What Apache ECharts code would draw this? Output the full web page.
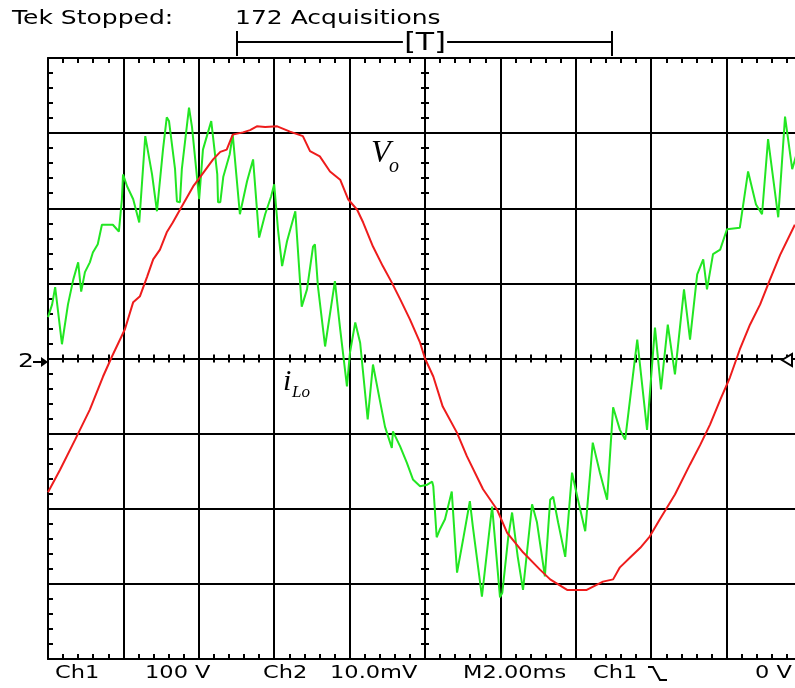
<!DOCTYPE html>
<html><head><meta charset="utf-8">
<script src="https://cdn.jsdelivr.net/npm/echarts@6/dist/echarts.min.js"></script>
<style>html,body{margin:0;padding:0;background:#fff;overflow:hidden}#c{width:810px;height:688px}</style>
</head><body><div id="c"></div>
<script>
// Scope settings
const timePerDiv = 2;      // ms/div  (M2.00ms)
const ch1PerDiv = 100;     // V/div   (Ch1 100 V)
const ch2PerDiv = 10;      // mV/div  (Ch2 10.0mV)

// Ch1: output voltage Vo (red), time in ms, value in V
const voTime = [0,0.32,0.72,1.11,1.46,1.70,2.04,2.26,2.44,2.63,2.79,2.97,3.15,3.31,3.50,3.85,4.03,4.38,4.57,4.74,4.90,5.17,5.36,5.54,5.76,6.08,6.42,6.76,6.95,7.21,7.48,7.75,7.96,8.20,8.36,8.62,8.88,9.12,9.34,9.60,9.87,10.00,10.22,10.47,10.85,11.11,11.54,11.91,12.18,12.60,13.05,13.32,13.77,14.29,14.72,14.99,15.17,15.44,15.71,15.96,16.23,16.63,17.03,17.30,17.56,17.83,18.09,18.35,18.62,18.89,19.15,19.42,19.81];
const voVolts = [-178,-148,-108,-68,-24,3,39,75,83,109,132,145,168,181,198,229,241,265,275,278,298,301,304,309,308,309,302,296,276,269,249,238,212,198,181,149,123,101,79,52,21,0,-24,-64,-99,-130,-174,-201,-232,-258,-281,-294,-308,-308,-297,-294,-278,-265,-252,-237,-214,-181,-141,-115,-88,-55,-25,12,45,72,105,138,178];

// Ch2: inductor current iLo (green), time in ms, value in mV
const iloTime = [0,0.11,0.19,0.37,0.53,0.67,0.80,0.88,0.98,1.11,1.19,1.32,1.43,1.72,1.88,1.96,1.99,2.10,2.26,2.42,2.58,2.76,2.89,3.05,3.15,3.21,3.37,3.42,3.50,3.55,3.74,3.82,4.01,4.11,4.33,4.49,4.51,4.57,4.65,4.82,4.90,5.09,5.28,5.44,5.60,5.76,5.92,6.00,6.10,6.21,6.34,6.56,6.73,6.87,7.03,7.08,7.16,7.35,7.61,7.75,7.93,8.01,8.15,8.28,8.48,8.62,8.80,8.94,9.12,9.15,9.34,9.52,9.68,9.87,10.06,10.19,10.22,10.31,10.39,10.53,10.71,10.85,11.01,11.19,11.27,11.51,11.78,11.99,12.05,12.21,12.31,12.46,12.60,12.84,12.97,13.18,13.32,13.40,13.53,13.72,13.90,14.04,14.25,14.45,14.64,14.83,14.99,15.17,15.31,15.63,15.89,16.10,16.26,16.44,16.63,16.87,17.03,17.22,17.38,17.48,17.64,17.83,18.01,18.35,18.57,18.78,18.94,19.10,19.37,19.55,19.74,19.89];
const iloMilliVolts = [5.5,7.2,9.5,1.9,7.2,10.5,12.8,8.9,11.5,12.8,14.1,15.2,17.8,17.8,16.9,21.2,24.5,22.9,21.2,18.1,29.6,24.5,19.6,27.8,32.1,31.6,25.2,20.9,20.8,25.2,33.4,30.8,21.2,27.8,31.6,24.5,20.8,20.8,24.2,27.2,29.8,19.2,23.6,26.5,16.1,19.2,21.6,23.2,17.2,12.3,15.6,19.6,6.9,9.2,14.9,15.2,9.6,1.6,10.3,3.9,-3.7,0.8,4.8,2.1,-8.1,-0.8,-5.5,-9.1,-11.9,-9.7,-11.7,-13.9,-16.1,-17.0,-16.8,-16.4,-17.0,-23.8,-22.8,-21.4,-17.7,-28.5,-24.1,-19.0,-22.4,-31.7,-19.7,-31.8,-31.2,-23.7,-20.5,-26.4,-30.8,-19.4,-21.8,-29.0,-18.8,-18.4,-21.8,-26.4,-15.2,-18.4,-23.0,-11.2,-15.2,-18.8,-6.5,-9.5,-10.8,2.5,-9.5,4.1,-4.1,4.5,-2.1,9.2,2.5,11.2,13.2,9.2,13.9,14.5,17.2,17.4,24.9,20.5,19.2,29.2,18.8,32.2,25.2,27.8];

const zip = (a, b) => a.map((v, i) => [v, b[i]]);

const BLACK = '#000';
const GRID = {left: 48, top: 58, width: 754, height: 601};
const tekFont = '"DejaVu Sans"';

function borderAxis(extra) {
  return Object.assign({
    type: 'value',
    axisLine: {show: true, onZero: false, lineStyle: {color: BLACK, width: 2}},
    axisTick: {show: false, inside: true},
    axisLabel: {show: false},
    minorTick: {show: true, splitNumber: 5, length: 5, lineStyle: {color: BLACK, width: 2}},
    splitLine: {show: false}
  }, extra);
}
function centerAxis(gridIndex, inside, min, max) {
  return {
    type: 'value', gridIndex, min, max, interval: 1,
    axisLine: {show: true, onZero: true, lineStyle: {color: BLACK, width: 2}},
    axisTick: {show: false, inside},
    axisLabel: {show: false},
    minorTick: {show: true, splitNumber: 5, length: 4, lineStyle: {color: BLACK, width: 2}},
    splitLine: {show: false}
  };
}

const txt = (text, x, y, size, extra) => ({
  type: 'text', x, y, scaleX: 1.25, z: 100,
  style: Object.assign({text, fill: BLACK, font: size + 'px ' + tekFont, verticalAlign: 'middle', align: 'left'}, extra || {})
});

const option = {
  animation: false,
  backgroundColor: '#fff',
  grid: [Object.assign({}, GRID), Object.assign({}, GRID), Object.assign({}, GRID)],
  xAxis: [
    borderAxis({gridIndex: 0, position: 'bottom', min: 0, max: 10 * timePerDiv, interval: timePerDiv,
      splitLine: {show: true, lineStyle: {color: BLACK, width: 2}}}),
    borderAxis({gridIndex: 0, position: 'top', min: 0, max: 10 * timePerDiv, interval: timePerDiv}),
    centerAxis(1, true, -5, 5),
    centerAxis(2, false, -5, 5)
  ],
  yAxis: [
    borderAxis({gridIndex: 0, position: 'left', min: -4 * ch1PerDiv, max: 4 * ch1PerDiv, interval: ch1PerDiv,
      splitLine: {show: true, lineStyle: {color: BLACK, width: 2}}}),
    borderAxis({gridIndex: 0, position: 'right', min: -4 * ch2PerDiv, max: 4 * ch2PerDiv, interval: ch2PerDiv}),
    centerAxis(1, true, -4, 4),
    centerAxis(2, false, -4, 4)
  ],
  series: [
    {name: 'iLo', type: 'line', xAxisIndex: 1, yAxisIndex: 1, data: zip(iloTime, iloMilliVolts),
      showSymbol: false, symbol: 'none', lineStyle: {color: '#22e622', width: 2}, z: 10},
    {name: 'Vo', type: 'line', xAxisIndex: 0, yAxisIndex: 0, data: zip(voTime, voVolts),
      showSymbol: false, symbol: 'none', lineStyle: {color: '#ee1c1c', width: 2}, z: 11}
  ],
  graphic: [
    txt('Tek Stopped:', 12, 19, 20),
    txt('172 Acquisitions', 235, 19, 20),
    {type: 'line', z: 100, shape: {x1: 237, y1: 42, x2: 612, y2: 42}, style: {stroke: BLACK, lineWidth: 2}},
    {type: 'line', z: 100, shape: {x1: 237, y1: 31, x2: 237, y2: 56}, style: {stroke: BLACK, lineWidth: 2}},
    {type: 'line', z: 100, shape: {x1: 612, y1: 31, x2: 612, y2: 56}, style: {stroke: BLACK, lineWidth: 2}},
    {type: 'text', x: 425, y: 44, z: 101, scaleX: 1.25, style: {text: '[T]', fill: BLACK, font: '24px ' + tekFont, align: 'center', verticalAlign: 'middle', backgroundColor: '#fff', padding: [0, 1]}},
    txt('Ch1', 55, 673, 18),
    txt('100 V', 145, 673, 18),
    txt('Ch2', 263, 673, 18),
    txt('10.0mV', 330, 673, 18),
    txt('M2.00ms', 463, 673, 18),
    txt('Ch1', 593, 673, 18),
    {type: 'polyline', z: 100, shape: {points: [[648, 667], [653, 667], [660, 680], [667, 680]]}, style: {stroke: BLACK, lineWidth: 2, fill: null}},
    txt('0 V', 755, 673, 18),
    // channel ground marker (left)
    txt('2', 18, 362, 20),
    {type: 'line', z: 100, shape: {x1: 33, y1: 362, x2: 44, y2: 362}, style: {stroke: BLACK, lineWidth: 2}},
    {type: 'polygon', z: 100, shape: {points: [[48, 362], [41, 357], [41, 367]]}, style: {fill: BLACK}},
    // trigger level marker (right)
    {type: 'polygon', z: 100, shape: {points: [[782, 360], [792, 354], [792, 366]]}, style: {fill: '#fff', stroke: BLACK, lineWidth: 2}},
    // trace labels
    {type: 'text', x: 371, y: 154, z: 100, style: {text: 'V', fill: BLACK, font: 'italic 32px "Liberation Serif"', verticalAlign: 'middle'}},
    {type: 'text', x: 389, y: 167, z: 100, style: {text: 'o', fill: BLACK, font: 'italic 20px "Liberation Serif"', verticalAlign: 'middle'}},
    {type: 'text', x: 283, y: 382, z: 100, style: {text: 'i', fill: BLACK, font: 'italic 30px "Liberation Serif"', verticalAlign: 'middle'}},
    {type: 'text', x: 292, y: 393, z: 100, style: {text: 'Lo', fill: BLACK, font: 'italic 17px "Liberation Serif"', verticalAlign: 'middle'}}
  ]
};
const chart = echarts.init(document.getElementById('c'), null, {renderer: 'canvas'});
chart.setOption(option);
</script>
</body></html>
